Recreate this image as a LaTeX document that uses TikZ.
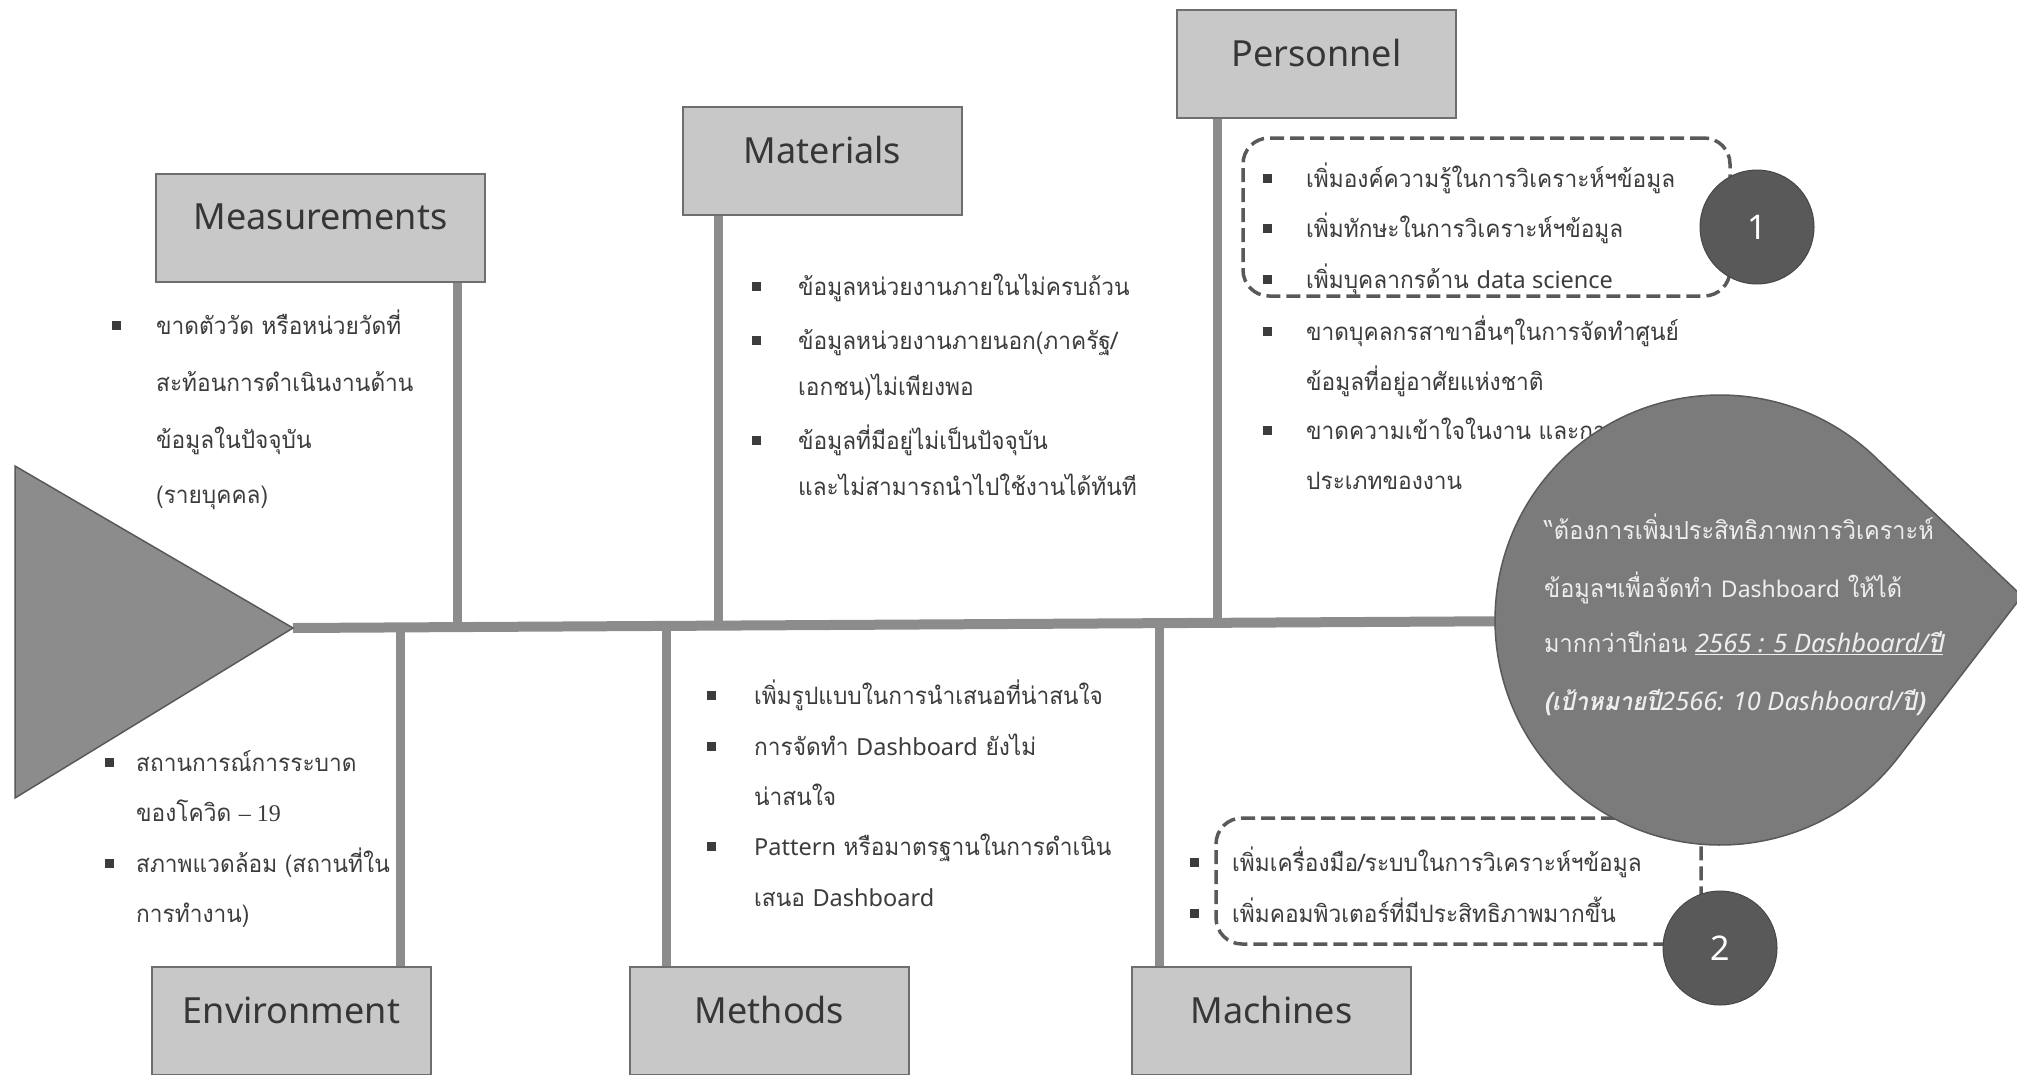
\documentclass[tikz,border=0pt]{standalone}
\usepackage{fontspec}
\setmainfont{Noto Sans}
\newfontfamily\thaif[Script=Thai, FakeStretch=0.945]{Loma}
\newfontfamily\latf{Noto Sans}
\newfontfamily\serf{Liberation Serif}
\newcommand{\lw}[1]{{\latf\fontsize{23.5}{28}\selectfont #1}}
\newcommand{\lh}[1]{{\latf\fontsize{23}{28}\selectfont #1}}
\newcommand{\lhb}[1]{{\latf\fontsize{25.5}{28}\selectfont #1}}
\definecolor{boxfill}{HTML}{C8C8C8}
\definecolor{boxline}{HTML}{6E6E6E}
\definecolor{bonec}{HTML}{8C8C8C}
\definecolor{headfill}{HTML}{7B7B7B}
\definecolor{darkc}{HTML}{595959}
\definecolor{txtc}{HTML}{3C3C3C}
\definecolor{headtxt}{HTML}{EEEEEE}
\begin{document}
\begin{tikzpicture}[x=1pt,y=-1pt,
  catbox/.style={draw=boxline, fill=boxfill, line width=1.2pt, minimum width=279, minimum height=108, inner sep=0},
  catlbl/.style={inner sep=0, text=txtc!90!black, font=\latf\fontsize{36}{40}\selectfont},
  bone/.style={draw=bonec, line width=9pt},
  spinest/.style={draw=bonec, line width=10pt},
  txt/.style={anchor=mid west, inner sep=0, yshift=-7pt, text=txtc, font=\thaif\fontsize{24}{30}\selectfont},
  htxt/.style={anchor=mid west, inner sep=0, yshift=-7pt, text=headtxt, font=\thaif\fontsize{24.9}{28}\selectfont},
  bul/.style={fill=txtc, rectangle, minimum size=9, inner sep=0},
  dashbox/.style={draw=darkc, line width=3.5pt, dash pattern=on 14pt off 6pt, rounded corners=26pt, inner sep=0},
  numc/.style={circle, fill=darkc, draw=darkc!80!black, line width=1pt, minimum size=114, inner sep=0, text=white, font=\latf\fontsize{34}{38}\selectfont},
  shapest/.style={fill=headfill, draw=darkc, line width=1.5pt}
]
\useasboundingbox (0,0) rectangle (2017,1074);

% spine coordinates
\coordinate (tailtip) at (293,628);
\coordinate (headc) at (1720,620);
\coordinate (headtip) at (2022,596);
\coordinate (sp1) at (457,628);
\coordinate (sp2) at (718,628);
\coordinate (sp3) at (1217,628);
\coordinate (sp4) at (400,628);
\coordinate (sp5) at (666,628);
\coordinate (sp6) at (1159,628);

% category boxes
\node[catbox, minimum width=329] (meas) at (320.5,228) {};
\node[catbox] (mat) at (822.5,161) {};
\node[catbox] (pers) at (1316.5,64) {};
\node[catbox] (env) at (291.5,1021) {};
\node[catbox] (meth) at (769.5,1021) {};
\node[catbox] (mach) at (1271.5,1021) {};
\node[catlbl] (measl) at (320.5,217) {Measurements};
\node[catlbl] (matl) at (822.5,150) {Materials};
\node[catlbl] (persl) at (1316.5,53) {Personnel};
\node[catlbl] (envl) at (291.5,1010) {Environment};
\node[catlbl] (methl) at (769.5,1010) {Methods};
\node[catlbl] (machl) at (1271.5,1010) {Machines};

% spine and bones
\draw[spinest] (tailtip) -- (headc);
\draw[bone] (meas.south -| sp1) -- (sp1);
\draw[bone] (mat.south -| sp2) -- (sp2);
\draw[bone] (pers.south -| sp3) -- (sp3);
\draw[bone] (sp4) -- (sp4 |- env.north);
\draw[bone] (sp5) -- (sp5 |- meth.north);
\draw[bone] (sp6) -- (sp6 |- mach.north);

% tail
\coordinate (tailA) at (15,466);
\coordinate (tailB) at (15,798);
\draw[shapest, fill=bonec] (tailA) -- (tailtip) -- (tailB) -- cycle;

% Measurements
\node[bul] (mb1) at (116,325) {};
\node[txt] (mt1) at (156,325) {ขาดตัววัด หรือหน่วยวัดที่};
\node[txt] (mt2) at (156,382) {สะท้อนการดำเนินงานด้าน};
\node[txt] (mt3) at (156,439) {ข้อมูลในปัจจุบัน};
\node[txt] (mt4) at (156,494) {(รายบุคคล)};

% Materials
\node[bul] (ab1) at (756,286) {};
\node[txt] (at1) at (798,286) {ข้อมูลหน่วยงานภายในไม่ครบถ้วน};
\node[bul] (ab2) at (756,340) {};
\node[txt] (at2) at (798,340) {ข้อมูลหน่วยงานภายนอก(ภาครัฐ/};
\node[txt] (at3) at (798,386) {เอกชน)ไม่เพียงพอ};
\node[bul] (ab3) at (756,440) {};
\node[txt] (at4) at (798,440) {ข้อมูลที่มีอยู่ไม่เป็นปัจจุบัน};
\node[txt] (at5) at (798,486) {และไม่สามารถนำไปใช้งานได้ทันที};

% Personnel
\node[dashbox, minimum width=487, minimum height=158] (db1) at (1486.5,217) {};
\node[bul] (pb1) at (1267,178) {};
\node[txt] (pt1) at (1306,178) {เพิ่มองค์ความรู้ในการวิเคราะห์ฯข้อมูล};
\node[bul] (pb2) at (1267,228) {};
\node[txt] (pt2) at (1306,228) {เพิ่มทักษะในการวิเคราะห์ฯข้อมูล};
\node[bul] (pb3) at (1267,279) {};
\node[txt] (pt3) at (1306,279) {เพิ่มบุคลากรด้าน \lw{data science}};
\node[bul] (pb4) at (1267,331) {};
\node[txt] (pt4) at (1306,331) {ขาดบุคลกรสาขาอื่นๆในการจัดทำศูนย์};
\node[txt] (pt5) at (1306,381) {ข้อมูลที่อยู่อาศัยแห่งชาติ};
\node[bul] (pb5) at (1267,430) {};
\node[txt] (pt6) at (1306,430) {ขาดความเข้าใจในงาน และการใช้งานที่ผิด};
\node[txt] (pt7) at (1306,480) {ประเภทของงาน};

% Environment
\node[bul] (eb1) at (109,762) {};
\node[txt] (et1) at (136,762) {สถานการณ์การระบาด};
\node[txt] (et2) at (136,812) {ของโควิด {\serf – 19}};
\node[bul] (eb2) at (109,863) {};
\node[txt] (et3) at (136,863) {สภาพแวดล้อม (สถานที่ใน};
\node[txt] (et4) at (136,913) {การทำงาน)};

% Methods
\node[bul] (hb1) at (711,695) {};
\node[txt] (ht1) at (754,695) {เพิ่มรูปแบบในการนำเสนอที่น่าสนใจ};
\node[bul] (hb2) at (711,746) {};
\node[txt] (ht2) at (754,746) {การจัดทำ \lw{Dashboard} ยังไม่};
\node[txt] (ht3) at (754,796) {น่าสนใจ};
\node[bul] (hb3) at (711,846) {};
\node[txt] (ht4) at (754,846) {\lw{Pattern} หรือมาตรฐานในการดำเนิน};
\node[txt] (ht5) at (754,897) {เสนอ \lw{Dashboard}};

% Machines
\node[dashbox, minimum width=485, minimum height=126] (db2) at (1458.5,881) {};
\node[bul] (cb1) at (1194,862) {};
\node[txt] (ct1) at (1232,862) {เพิ่มเครื่องมือ/ระบบในการวิเคราะห์ฯข้อมูล};
\node[bul] (cb2) at (1194,913) {};
\node[txt] (ct2) at (1232,913) {เพิ่มคอมพิวเตอร์ที่มีประสิทธิภาพมากขึ้น};

% head
\draw[shapest] (headtip) -- ([shift={(-44.8:225)}]headc) arc[start angle=-44.8, end angle=-322.8, radius=225] -- cycle;
\node[htxt] (g1) at (1544,530) {“ต้องการเพิ่มประสิทธิภาพการวิเคราะห์};
\node[htxt] (g2) at (1544,588) {ข้อมูลฯเพื่อจัดทำ \lh{Dashboard} ให้ได้};
\node[htxt] (g3) at (1544,643) {มากกว่าปีก่อน \underline{\bfseries\itshape\lhb{2565 : 5 Dashboard/}ปี}};
\node[htxt] (g4) at (1544,701) {\bfseries\itshape (เป้าหมายปี\lhb{2566: 10 Dashboard/}ปี)};

% numbered circles
\node[numc] (c1) at (1757,227) {1};
\node[numc] (c2) at (1720,948) {2};
\end{tikzpicture}
\end{document}
